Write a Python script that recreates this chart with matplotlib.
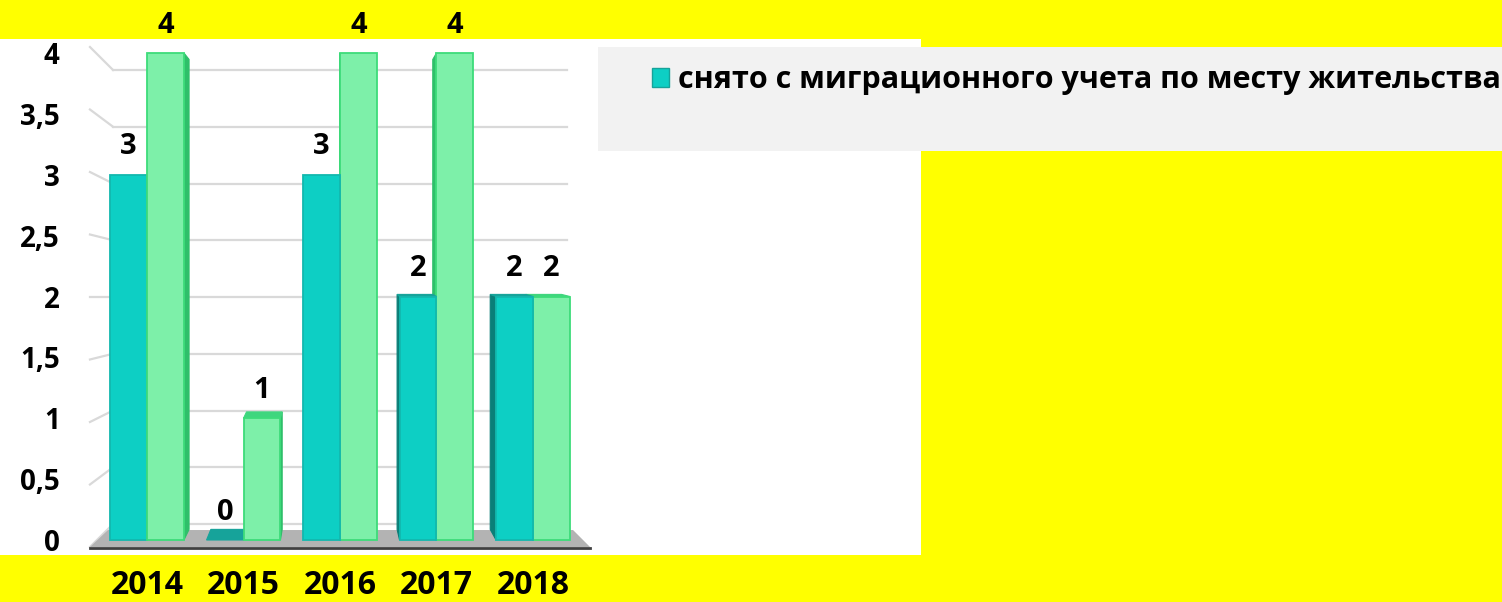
import matplotlib.pyplot as plt
from matplotlib.patches import Polygon, Patch, Rectangle

years = ['2014', '2015', '2016', '2017', '2018']
removed = [3, 0, 3, 2, 2]        # teal series (shown in legend)
other = [4, 1, 4, 4, 2]          # green series (legend entry cut off)
legend_label = 'снято с миграционного учета по месту жительства'
yticks = [0, 0.5, 1, 1.5, 2, 2.5, 3, 3.5, 4]
ytick_labels = ['0', '0,5', '1', '1,5', '2', '2,5', '3', '3,5', '4']

W, H = 1502, 602
FONT = ['Open Sans', 'DejaVu Sans']
plt.rcParams['font.family'] = FONT

teal = '#0dcfc4'
teal_side = '#0a7f78'
teal_top = '#16a39a'
green = '#7df0a9'
green_side = '#2fbf6a'
green_top = '#3fd67e'

# crude perspective: back of a bar is pulled toward a vanishing point
K = 0.035
XV, YV = 1.896, 2.49


def back(x, y):
    return x + (XV - x) * K, y + (YV - y) * K


def draw_bar(ax, x0, x1, h, face, side, top, edge, z):
    if x1 < XV:
        pts = [(x1, 0), (x1, h), back(x1, h), back(x1, 0)]
        ax.add_patch(Polygon(pts, closed=True, facecolor=side, edgecolor=side, lw=0.8, zorder=z))
    elif x0 > XV:
        pts = [(x0, 0), (x0, h), back(x0, h), back(x0, 0)]
        ax.add_patch(Polygon(pts, closed=True, facecolor=side, edgecolor=side, lw=0.8, zorder=z))
    if h < YV:
        pts = [(x0, h), (x1, h), back(x1, h), back(x0, h)]
        ax.add_patch(Polygon(pts, closed=True, facecolor=top, edgecolor=top, lw=0.8, zorder=z))
    if h > 0:
        ax.bar((x0 + x1) / 2, h, width=x1 - x0, color=face, edgecolor=edge,
               linewidth=1.3, zorder=z + 0.1)


fig = plt.figure(figsize=(W / 100, H / 100), dpi=100, facecolor='#ffff00')
ax = fig.add_axes([0, (H - 555) / H, 921 / W, (555 - 39) / H])
ax.set_facecolor('white')
ax.set_xlim(-147 / 96.5, (921 - 147) / 96.5)
ax.set_ylim(-(555 - 540) / 121.75, (540 - 39) / 121.75)
for s in ax.spines.values():
    s.set_visible(False)

# back wall gridlines + left wall connectors
for v in yticks:
    yb = (16 + 113.5 * v) / 121.75
    yl = (-7 + 125 * v) / 121.75
    ax.plot([-0.352, 4.352], [yb, yb], color='#d9d9d9', lw=1.6, zorder=0.5)
    ax.plot([-0.591, -0.352], [yl, yb], color='#d9d9d9', lw=1.6, zorder=0.5)

# floor
floor = [(-0.591, -0.0575), (4.591, -0.0575), (4.415, 0.082), (-0.404, 0.082)]
ax.add_patch(Polygon(floor, closed=True, facecolor='#b3b3b3', edgecolor='none', zorder=1))
ax.plot([-0.591, 4.591], [-0.065, -0.065], color='#404040', lw=2, zorder=1.1)

bw = 0.383
bars = []
for i in range(len(years)):
    bars.append((i - bw, i, removed[i], teal, teal_side, teal_top, '#12b8ae'))
    bars.append((i, i + bw, other[i], green, green_side, green_top, '#3ddc7a'))
bars.sort(key=lambda b: -abs((b[0] + b[1]) / 2 - XV))
for n, b in enumerate(bars):
    draw_bar(ax, *b, z=2 + n * 0.2)

for i in range(len(years)):
    for x, v in [(i - bw / 2, removed[i]), (i + bw / 2, other[i])]:
        ax.annotate(str(v), (x, v), xytext=(0, 20), textcoords='offset points',
                    ha='center', va='center', fontsize=21, fontweight='bold',
                    annotation_clip=False, zorder=10)

ax.set_yticks(yticks)
ax.set_yticklabels(ytick_labels, fontsize=20, fontweight='bold')
ax.tick_params(axis='y', length=0, pad=-43)
ax.set_xticks(range(len(years)))
ax.set_xticklabels(years, fontsize=23, fontweight='bold')
ax.tick_params(axis='x', length=0, pad=10)

# legend box
fig.patches.append(Rectangle((598 / W, (H - 151) / H), (W - 598) / W, (151 - 47) / H,
                             transform=fig.transFigure, facecolor='#f2f2f2',
                             edgecolor='none', zorder=1))
fig.legend(handles=[Patch(facecolor=teal, edgecolor='#16a39a')], labels=[legend_label],
           loc='center left', bbox_to_anchor=(652 / W, (H - 80) / H), frameon=False,
           handlelength=0.56, handleheight=0.56, handletextpad=0.28,
           borderpad=0, borderaxespad=0,
           prop={'size': 22, 'weight': 'bold', 'family': FONT})

fig.savefig('out.png', dpi=100, facecolor=fig.get_facecolor())
